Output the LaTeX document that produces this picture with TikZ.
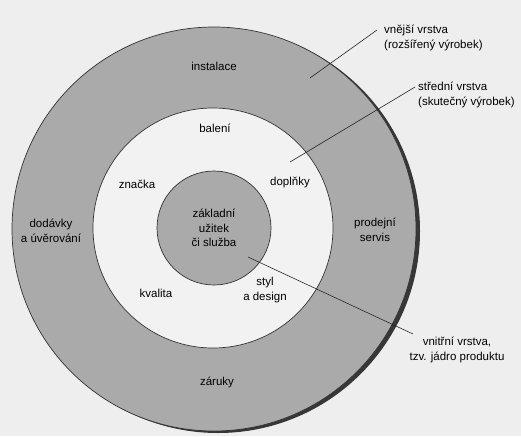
\documentclass[tikz,border=0pt]{standalone}
\usepackage{fontspec}
\setmainfont{Liberation Sans}
\begin{document}
\begin{tikzpicture}[x=1pt,y=-1pt,
  lbl/.style={inner sep=0pt, font=\fontsize{11.5}{14.5}\selectfont, align=center},
  lbll/.style={inner sep=0pt, font=\fontsize{11.5}{14.5}\selectfont, align=left},
  leader/.style={draw=black!85, line width=0.6pt},
  ring/.style={draw=black!80, line width=0.7pt}]
\definecolor{bggray}{RGB}{238,238,238}
\definecolor{ringgray}{RGB}{170,170,170}
\definecolor{shadowgray}{RGB}{55,55,55}
\definecolor{whitering}{RGB}{242,242,242}
\useasboundingbox (0,0) rectangle (521,436);
\fill[bggray] (0,0) rectangle (521,436);
% circles
\coordinate (c) at (214,229);
\fill[shadowgray] (218,231) circle[radius=202pt];
\filldraw[ring, fill=ringgray] (c) circle[radius=202pt];
\filldraw[ring, fill=whitering] (213,228) circle[radius=120pt];
\filldraw[ring, fill=ringgray] (214,228) circle[radius=57pt];
% ring labels
\node[lbl] (instalace) at (214,66) {instalace};
\node[lbl] (baleni) at (215,128) {balení};
\node[lbl] (znacka) at (137,184) {značka};
\node[lbl] (doplnky) at (290,183) {doplňky};
\node[lbl] (dodavky) at (51,231) {dodávky\\a úvěrování};
\node[lbl] (prodejni) at (375,230) {prodejní\\servis};
\node[lbl] (zakladni) at (214,228) {základní\\užitek\\či služba};
\node[lbl] (kvalita) at (156,293) {kvalita};
\node[lbl] (styl) at (265,290) {styl\\a design};
\node[lbl] (zaruky) at (217,382) {záruky};
% outside labels
\node[lbll, anchor=west] (vnejsi) at (384,38) {vnější vrstva\\(rozšířený výrobek)};
\node[lbll, anchor=west] (stredni) at (418,95) {střední vrstva\\(skutečný výrobek)};
\node[lbl] (vnitrni) at (457,350) {vnitřní vrstva,\\tzv. jádro produktu};
% leaders
\coordinate (o1) at (310,78);
\coordinate (o2) at (377,30);
\coordinate (m1) at (290,162);
\coordinate (m2) at (415,87);
\coordinate (i1) at (248,257);
\coordinate (i2) at (413,334);
\draw[leader] (o1) -- (o2);
\draw[leader] (m1) -- (m2);
\draw[leader] (i1) -- (i2);
\end{tikzpicture}
\end{document}
